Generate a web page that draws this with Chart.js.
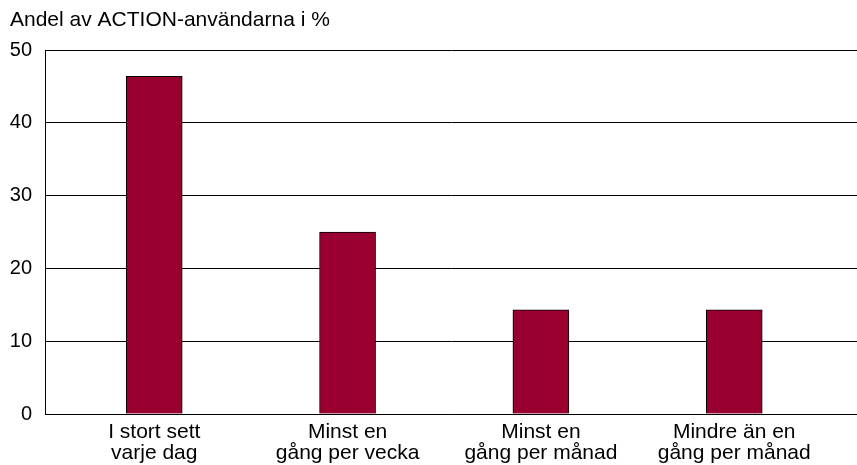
<!DOCTYPE html>
<html>
<head>
<meta charset="utf-8">
<script src="https://cdn.jsdelivr.net/npm/chart.js@4/dist/chart.umd.min.js"></script>
<style>
  body { margin: 0; background: #fff; }
</style>
</head>
<body>
<canvas id="myChart" width="857" height="465"></canvas>
<script>
const labels = [
  ['I stort sett', 'varje dag'],
  ['Minst en', 'gång per vecka'],
  ['Minst en', 'gång per månad'],
  ['Mindre än en', 'gång per månad']
];
const values = [46.4, 25.0, 14.3, 14.3];
const yTicks = [0, 10, 20, 30, 40, 50];

const points = [];
for (let i = 0; i < values.length; ++i) {
  points.push({ x: i, y: values[i] });
}

const family = "'Liberation Sans', Arial, sans-serif";

const ctx = document.getElementById('myChart').getContext('2d');
const myChart = new Chart(ctx, {
  type: 'bar',
  data: {
    datasets: [{
      data: points,
      backgroundColor: '#99002f',
      borderColor: '#000',
      borderWidth: 1,
      borderSkipped: 'bottom',
      barThickness: 56
    }]
  },
  options: {
    responsive: false,
    animation: false,
    layout: { padding: { left: 10, right: 0, top: 0, bottom: 0 } },
    plugins: {
      legend: { display: false },
      tooltip: { enabled: false },
      title: {
        display: true,
        text: 'Andel av ACTION-användarna i %',
        align: 'start',
        color: '#000',
        font: { family: family, size: 21, weight: 'normal' },
        padding: { top: 8, bottom: 17 }
      }
    },
    scales: {
      x: {
        type: 'linear',
        offset: false,
        min: -0.565,
        max: 3.635,
        afterFit: (scale) => { scale.paddingRight = 0; scale.paddingLeft = 0; scale.height = 51; },
        grid: { display: false, drawTicks: false },
        border: { display: true, color: '#000', width: 1 },
        ticks: {
          stepSize: 1,
          autoSkip: false,
          maxRotation: 0,
          color: '#000',
          font: { family: family, size: 21, lineHeight: 1.0 },
          padding: 8,
          callback: (v) => Number.isInteger(v) && labels[v] ? labels[v] : ''
        }
      },
      y: {
        min: yTicks[0],
        max: yTicks[yTicks.length - 1],
        afterFit: (scale) => { scale.width = 35; },
        grid: { color: '#000', lineWidth: 1, drawTicks: false },
        border: { display: true, color: '#000', width: 1 },
        ticks: {
          stepSize: 10,
          color: '#000',
          font: { family: family, size: 20 },
          padding: 13
        }
      }
    }
  }
});
</script>
</body>
</html>
